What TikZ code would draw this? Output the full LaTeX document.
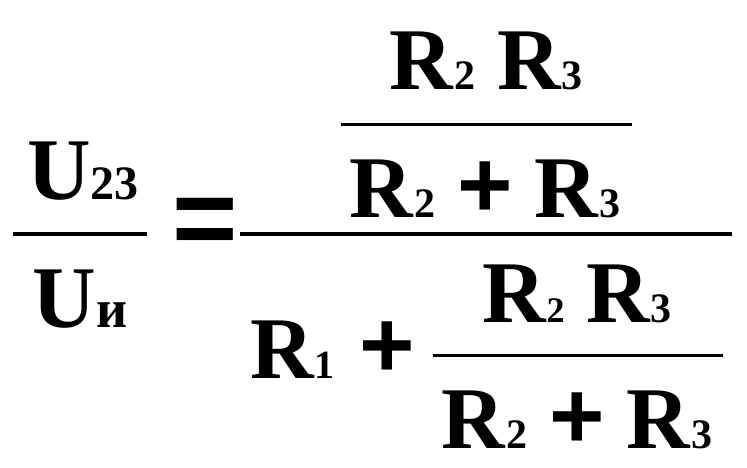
\documentclass[tikz,border=0pt]{standalone}
\usepackage{fontspec}
\setmainfont{Liberation Serif}
\newfontfamily\signfont{Liberation Sans}
\newcommand{\rr}[2]{\textbf{R}{\bfseries\fontsize{#2}{#2}\selectfont #1}}
\newcommand{\pls}{{\signfont\bfseries\fontsize{95}{95}\selectfont +}}
\begin{document}
\begin{tikzpicture}[
  big/.style={font=\fontsize{88}{90}\selectfont, inner sep=0pt, anchor=base},
  bar/.style={line width=3pt},
  thickbar/.style={line width=4pt}]
  \useasboundingbox (0pt,0pt) rectangle (747pt,-467pt);

  %% left side
  \node[big] (u23) at (83pt,-199pt) {\textbf{U}{\bfseries\fontsize{48}{48}\selectfont 23}};
  \draw[thickbar] (13pt,-234pt) -- (147pt,-234pt);
  \node[big] (ui) at (80pt,-327pt) {\textbf{U}{\bfseries\fontsize{54}{54}\selectfont и}};
  \node[inner sep=0pt, font=\signfont\bfseries\fontsize{112}{112}\selectfont] (eq) at (205pt,-227pt) {=};

  %% upper fraction
  \node[big] (tnum) at (486pt,-89pt) {\rr{2}{42} \rr{3}{42}};
  \draw[bar] (341pt,-124pt) -- (632pt,-124pt);
  \node[big] (tden) at (485pt,-217pt) {\rr{2}{42} \pls{} \rr{3}{42}};

  \draw[thickbar] (240pt,-234pt) -- (732pt,-234pt);

  %% lower part
  \node[big, anchor=base west] (r1) at (250pt,-378pt) {\rr{1}{40}};
  \node[inner sep=0pt] (plus) at (387pt,-350pt) {\pls};
  \node[big] (bnum) at (577pt,-322pt) {\rr{2}{36} \rr{3}{42}};
  \draw[bar] (433pt,-355pt) -- (723pt,-355pt);
  \node[big] (bden) at (577pt,-448pt) {\rr{2}{42} \pls{} \rr{3}{42}};
\end{tikzpicture}
\end{document}
